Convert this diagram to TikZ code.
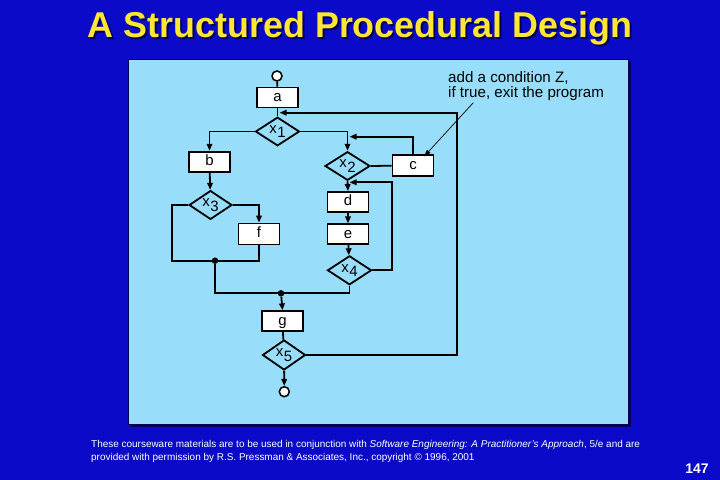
\documentclass[tikz,border=0pt]{standalone}
\usepackage{fontspec}
\setmainfont{Liberation Sans}
\usetikzlibrary{shapes.geometric,arrows.meta}
\definecolor{slidebg}{RGB}{10,10,200}
\definecolor{panelbg}{RGB}{152,222,250}
\definecolor{titleyellow}{RGB}{255,230,50}
\definecolor{shadowblue}{RGB}{0,0,90}
\tikzset{
  flow/.style={line width=1.8bp, black},
  arr/.style={flow, -{Triangle[length=7bp,width=5.5bp]}},
  box/.style={draw, fill=white, line width=1.8bp, minimum width=41bp, minimum height=20bp, inner sep=0pt, text height=10bp, text depth=2bp, font=\fontsize{15}{15}\selectfont},
  dia/.style={diamond, draw, line width=1.8bp, minimum width=44bp, minimum height=28bp, inner sep=0pt, font=\fontsize{15}{15}\selectfont},
  term/.style={circle, draw, fill=white, line width=1.5bp, minimum size=10bp, inner sep=0pt},
  junc/.style={circle, fill=black, minimum size=6.5bp, inner sep=0pt},
  note/.style={font=\fontsize{15.2}{14.7}\selectfont, align=left, anchor=north west, inner sep=0pt},
  foot/.style={font=\fontsize{10}{12.3}\selectfont, text=white, align=left, anchor=north west, inner sep=0pt}
}
\newcommand{\xlab}[1]{x\hspace{0.5bp}\raisebox{-0.3em}{#1}}
\begin{document}
\begin{tikzpicture}[x=1bp,y=-1bp]
\useasboundingbox (0,0) rectangle (720,480);
\fill[slidebg] (0,0) rectangle (720,480);
% title
\node[font=\fontsize{36}{36}\selectfont\bfseries, text=shadowblue] at (362,30) {A Structured Procedural Design};
\node[font=\fontsize{36}{36}\selectfont\bfseries, text=titleyellow] (title) at (360,28) {A Structured Procedural Design};
% panel
\fill[shadowblue] (130.5,61.5) rectangle (630.5,426.5);
\fill[panelbg, draw=shadowblue, line width=1bp] (128.3,59.7) rectangle (628.3,424);
% nodes
\node[term] (start) at (277,76) {};
\node[box] (a) at (277.5,97.5) {a};
\node[dia] (x1) at (277.5,131.5) {\xlab{1}};
\node[box] (b) at (209.5,161.7) {b};
\node[dia, minimum width=45bp, minimum height=27bp] (x2) at (347.5,166) {\xlab{2}};
\node[box, minimum height=21bp] (c) at (413,165.7) {c};
\node[dia, minimum width=43bp, minimum height=27bp] (x3) at (210.5,205) {\xlab{3}};
\node[box] (d) at (348,202) {d};
\node[box, minimum height=21bp] (f) at (259,234) {f};
\node[box] (e) at (348,234.3) {e};
\node[dia, minimum height=29bp] (x4) at (349.5,270.3) {\xlab{4}};
\node[box] (g) at (282.5,321.3) {g};
\node[dia, minimum width=43bp, minimum height=30bp] (x5) at (284,355) {\xlab{5}};
\node[term] (end) at (284.3,391.7) {};
\node[junc] (j1) at (215,260.7) {};
\node[junc] (j2) at (281,293.3) {};
\coordinate (ret) at (279.5,112.7);
\coordinate (cin) at (349.5,136.7);
\coordinate (x4in) at (349.5,182.3);
% connectors
\draw[flow] (start) -- (a);
\draw[flow] (a) -- (x1);
\draw[arr] (x1.west) -| (b.north);
\draw[arr] (x1.east) -| (x2.north);
\draw[flow] (x2.east) -- (c.west);
\draw[arr] (c.north) |- (cin);
\draw[arr] (x2.south) -- (d.north);
\draw[arr] (d) -- (e);
\draw[arr] (e) -- (x4);
\draw[arr] (x4.east) -- (391.7,270.3) |- (x4in);
\draw[arr] (b) -- (x3);
\draw[arr] (x3.east) -| (f.north);
\draw[flow] (x3.west) -- (171.7,205) |- (f.south |- j1) -- (f.south);
\draw[flow] (j1) |- (x4.south |- j2) -- (x4.south);
\draw[arr] (j2) -- (g.north);
\draw[flow] (g) -- (x5);
\draw[arr] (x5) -- (end);
\draw[arr] (x5.east) -- (456.7,355) |- (ret);
% annotation
\node[note] (anno) at (448,71.5) {add a condition Z,\\if true, exit the program};
\coordinate (annostart) at (473.3,102.7);
\draw[line width=0.7bp, -{Triangle[length=7bp,width=4.5bp]}] (annostart) -- (424,156.5);
% footer
\node[foot] (foot) at (91,440.5) {These courseware materials are to be used in conjunction with \textit{Software Engineering: A Practitioner's Approach}, 5/e and are\\provided with permission by R.S. Pressman \& Associates, Inc., copyright © 1996, 2001};
\node[font=\fontsize{14}{14}\selectfont\bfseries, text=white] (page) at (697,469) {147};
\end{tikzpicture}
\end{document}
